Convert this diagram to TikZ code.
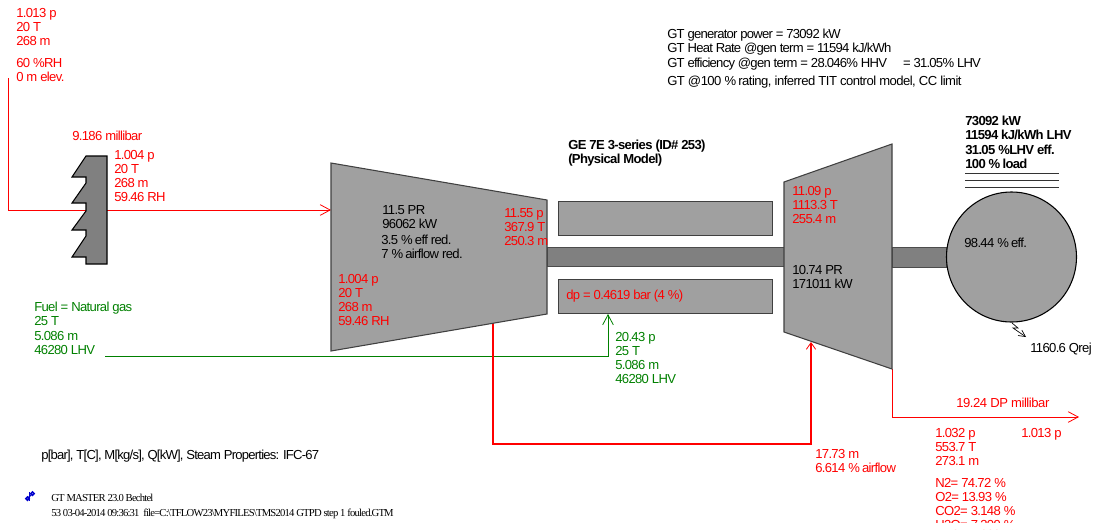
\documentclass[tikz,border=0pt]{standalone}
\usepackage{fontspec}
\setmainfont{Liberation Sans}[LetterSpace=-5]
\newfontfamily\stampfont{Liberation Serif}[LetterSpace=-7.6]
\usepackage{xcolor}
\usetikzlibrary{arrows.meta,positioning}
\definecolor{gasred}{RGB}{255,0,0}
\definecolor{fuelgreen}{RGB}{0,128,0}
\definecolor{bodygray}{RGB}{160,160,160}
\definecolor{shaftgray}{RGB}{128,128,128}
\definecolor{stampblue}{RGB}{0,0,204}
\tikzset{
    lbl/.style={font=\fontsize{9.8pt}{10.6pt}\selectfont, anchor=north west, inner sep=0pt, align=left},
    lblr/.style={lbl, text=gasred},
    lblg/.style={lbl, text=fuelgreen},
    lblb/.style={lbl, font=\fontsize{9.8pt}{10.6pt}\selectfont\bfseries},
    spaced/.style={font=\fontsize{9.8pt}{10.6pt}\selectfont\addfontfeature{LetterSpace=#1}},
    stamp/.style={anchor=north west, inner sep=0pt, align=left, font=\fontsize{8pt}{11pt}\stampfont},
    unitbody/.style={draw=black!75, fill=bodygray, line width=0.8pt, line join=miter},
    shaftbar/.style={draw=black!60, fill=shaftgray, line width=0.8pt},
    flow/.style={-{Straight Barb[length=7.5pt,width=8pt,line width=0.6pt]}, line width=#1},
    flow/.default=0.6pt,
    flowfat/.style={-{Straight Barb[length=5pt,width=7pt,line width=0.6pt]}, line width=1.5pt},
}
\begin{document}
\begin{tikzpicture}[x=0.75pt,y=-0.75pt]
    \useasboundingbox (0,0) rectangle (1096,529);

    % Corner points of the machines
    \coordinate (compTL) at (331,163);
    \coordinate (compTR) at (547,200);
    \coordinate (compBR) at (547,314);
    \coordinate (compBL) at (331,351);
    \coordinate (turbTL) at (784,182);
    \coordinate (turbTR) at (892,144);
    \coordinate (turbBR) at (892,369);
    \coordinate (turbBL) at (784,332);

    % Flow ends
    \coordinate (airstart) at (8,78);
    \coordinate (aircorner) at (8,210);
    \coordinate (airend) at (331,210);
    \coordinate (fuelstart) at (105,356);
    \coordinate (fuelcorner) at (608,356);
    \coordinate (fuelend) at (608,314);
    \coordinate (bleedstart) at (493,323);
    \coordinate (bleedleft) at (493,444);
    \coordinate (bleedright) at (811,444);
    \coordinate (bleedend) at (811,342);
    \coordinate (exhstart) at (892,369);
    \coordinate (exhcorner) at (892,417);
    \coordinate (exhend) at (1079,417);

    % Flows behind the machines
    \draw[flow, gasred] (airstart) -- (aircorner) -- (airend);
    \draw[flow, fuelgreen] (fuelstart) -- (fuelcorner) -- (fuelend);
    \draw[flowfat, gasred] (bleedstart) -- (bleedleft) -- (bleedright) -- (bleedend);
    \draw[flow, gasred] (exhstart) -- (exhcorner) -- (exhend);

    % Inlet filter
    \draw[shaftbar, draw=black] (86,156) -- (107,156) -- (107,264) -- (86,264) -- (86,257) -- (72,257)
        -- (86,236) -- (86,230) -- (72,230) -- (86,211) -- (86,203) -- (72,203)
        -- (86,183) -- (86,177) -- (72,177) -- cycle;

    % Shafts and combustor
    \node[shaftbar, draw=black!70, minimum width=237pt*0.75, minimum height=19pt*0.75, inner sep=0pt, anchor=north west] (shaft) at (547,247) {};
    \node[shaftbar, draw=black!70, minimum width=54pt*0.75, minimum height=20pt*0.75, inner sep=0pt, anchor=north west] (genshaft) at (892,247) {};
    \node[unitbody, minimum width=214pt*0.75, minimum height=34pt*0.75, inner sep=0pt, anchor=north west] (burnertop) at (558,201) {};
    \node[unitbody, minimum width=214pt*0.75, minimum height=34pt*0.75, inner sep=0pt, anchor=north west] (burnerbot) at (558,279) {};

    % Compressor, turbine, generator
    \draw[unitbody] (compTL) -- (compTR) -- (compBR) -- (compBL) -- cycle;
    \draw[unitbody] (turbTL) -- (turbTR) -- (turbBR) -- (turbBL) -- cycle;
    \node[unitbody, draw=black, circle, minimum size=130pt*0.75, inner sep=0pt] (gen) at (1011.5,257) {};

    % Lines over the generator
    \foreach \ypos in {173,180,187}
        \draw[black!80, line width=0.6pt] (965,\ypos) -- (1059,\ypos);

    % Heat rejection
    \coordinate (rejstart) at (1012,323);
    \coordinate (rejend) at (1026,337);
    \draw[-{Straight Barb[length=5pt,width=5pt]}, black, line width=0.5pt] (rejstart) -- (1018,328) -- (1013,328) -- (rejend);

    % Ambient and filter
    \node[lblr] (ambient) at (16,8) {1.013 p\\20 T\\268 m};
    \node[lblr] (ambientrh) at (16,58) {60 \%RH\\0 m elev.};
    \node[lblr] (filterdp) at (72,131) {9.186 millibar};
    \node[lblr] (filterout) at (114,150) {1.004 p\\20 T\\268 m\\59.46 RH};

    % Fuel
    \node[lblg] (fuelin) at (34,302) {Fuel = Natural gas\\25 T\\5.086 m\\46280 LHV};
    \node[lblg] (fuelout) at (615,332) {20.43 p\\25 T\\5.086 m\\46280 LHV};

    % Compressor texts
    \node[lbl] (comppr) at (382,205) {11.5 PR\\96062 kW};
    \node[lbl] (compred) at (381,235) {3.5 \%\,eff red.\\7 \%\,airflow red.};
    \node[lblr] (compin) at (338,274) {1.004 p\\20 T\\268 m\\59.46 RH};
    \node[lblr] (compout) at (504,208) {11.55 p\\367.9 T\\250.3 m};

    % Combustor and title
    \node[lblb] (title) at (568,140) {GE 7E 3-series (ID\# 253)\\(Physical Model)};
    \node[lblr] (burnerdp) at (566,290) {dp = 0.4619 bar (4 \%)};

    % Turbine texts
    \node[lblr] (turbin) at (792,186) {11.09 p\\1113.3 T\\255.4 m};
    \node[lbl] (turbpr) at (792,265) {10.74 PR\\171011 kW};

    % Generator texts
    \node[lbl] (geneff) at (964,238) {98.44 \%\,eff.};
    \node[lblb] (gensum) at (965,116) {73092 kW\\11594 kJ/kWh LHV\\31.05 \%LHV eff.\\100 \%\,load};
    \node[lbl] (rejtxt) at (1030,343) {1160.6 Qrej};

    % Summary
    \node[lbl, spaced=-5.7] (summary) at (667,29) {GT generator power = 73092 kW\\GT Heat Rate @gen term = 11594 kJ/kWh\\GT efficiency @gen term = 28.046\% HHV\quad\ = 31.05\% LHV};
    \node[lbl, spaced=-4] (rating) at (667,76) {GT @100 \%\,rating, inferred TIT control model, CC limit};

    % Bleed and exhaust
    \node[lblr] (bleedtxt) at (815,449) {17.73 m\\6.614 \%\,airflow};
    \node[lblr, spaced=-3.5] (exhdp) at (956,398) {19.24 DP millibar};
    \node[lblr] (exhout) at (935,428) {1.032 p\\553.7 T\\273.1 m};
    \node[lblr] (exhamb) at (1021,428) {1.013 p};
    \node[lblr] (exhgas) at (935,478) {N2= 74.72 \%\\O2= 13.93 \%\\CO2= 3.148 \%\\H2O= 7.309 \%};

    % Footer
    \node[lbl, spaced=-6] (units) at (41,450) {p[bar], T[C], M[kg/s], Q[kW], Steam Properties: IFC-67};
    \node[stamp] (stamp) at (51,494) {GT MASTER 23.0 Bechtel\\53 03-04-2014 09:36:31\ \ file=C:\textbackslash TFLOW23\textbackslash MYFILES\textbackslash TMS2014 GTPD step 1 fouled.GTM};

    % Logo
    \coordinate (logoA) at (27.5,498.5);
    \coordinate (logoB) at (32.5,493.5);
    \draw[stampblue, line width=1pt] (logoA) circle (1.8) (logoB) circle (1.8);
    \draw[stampblue, line width=1pt] (logoA) -- (logoB);
    \draw[stampblue, line width=1pt] (29.5,492) -- (29.5,501);

    % Sheet ends here
    \fill[white] (900,523) rectangle (1096,529);
\end{tikzpicture}
\end{document}
